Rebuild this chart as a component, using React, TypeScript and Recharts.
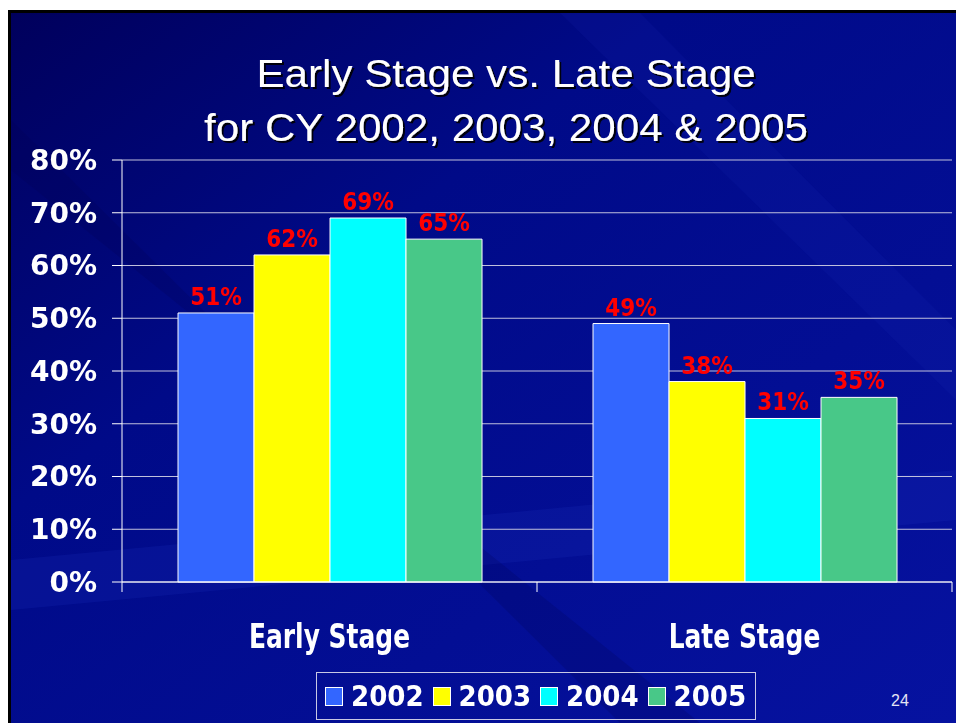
import React from 'react';
import {Bar, BarChart, CartesianGrid, LabelList, Legend, XAxis, YAxis} from 'recharts';

const stages = ['Early Stage', 'Late Stage'];
const years = ['2002', '2003', '2004', '2005'];
const pct2002 = [51, 49];
const pct2003 = [62, 38];
const pct2004 = [69, 31];
const pct2005 = [65, 35];
const yTicks = [0, 10, 20, 30, 40, 50, 60, 70, 80];
const titleLines = ['Early Stage vs. Late Stage', 'for CY 2002, 2003, 2004 & 2005'];
const slideNumber = '24';

const colors = ['#3366FF', '#FFFF00', '#00FFFF', '#48C888'];
const series = [pct2002, pct2003, pct2004, pct2005];

const data = stages.map((stage, i) => {
    const row: Record<string, string | number> = {stage};
    years.forEach((y, j) => {
        row[y] = series[j][i];
    });
    return row;
});

const condensed = "'DejaVu Sans Condensed', 'DejaVu Sans', sans-serif";

function StageTick(props: any) {
    const {x, y, payload, index, visibleTicksCount} = props;
    const half = payload.offset ?? 0;
    return (
        <g>
            <line x1={x - half} x2={x - half} y1={y - 10} y2={y} stroke="#fff" />
            {index === visibleTicksCount - 1 && (
                <line x1={x + half} x2={x + half} y1={y - 10} y2={y} stroke="#fff" />
            )}
            <g transform={`translate(${x},${y + 56}) scale(0.84,1)`}>
                <text
                    textAnchor="middle"
                    fill="#fff"
                    fontSize={33}
                    fontWeight="bold"
                    fontFamily={condensed}
                    fontStretch="condensed"
                >
                    {payload.value}
                </text>
            </g>
        </g>
    );
}

function YearLegend() {
    return (
        <div
            style={{
                display: 'flex',
                alignItems: 'center',
                height: 48,
                boxSizing: 'border-box',
                border: '1px solid #C8C8E4',
                paddingLeft: 8,
            }}
        >
            {years.map((y, i) => (
                <div key={y} style={{display: 'flex', alignItems: 'center', width: 109}}>
                    <span
                        style={{
                            display: 'inline-block',
                            width: 16,
                            height: 17,
                            background: colors[i],
                            border: '1px solid #fff',
                        }}
                    />
                    <span
                        style={{
                            marginLeft: 8,
                            color: '#fff',
                            fontSize: 29,
                            fontWeight: 'bold',
                            fontFamily: condensed,
                            fontStretch: 'condensed',
                            lineHeight: '30px',
                        }}
                    >
                        {y}
                    </span>
                </div>
            ))}
        </div>
    );
}

function Backdrop() {
    return (
        <svg width={956} height={723} style={{position: 'absolute', left: 0, top: 0}}>
            <defs>
                <linearGradient id="slideBg" x1="0" y1="0" x2="1" y2="1">
                    <stop offset="0%" stopColor="#00005C" />
                    <stop offset="35%" stopColor="#000A88" />
                    <stop offset="100%" stopColor="#0612A0" />
                </linearGradient>
                <filter id="titleShadow" x="-5%" y="-20%" width="110%" height="150%">
                    <feDropShadow dx={2} dy={2} stdDeviation={0.6} floodColor="#000" floodOpacity={0.9} />
                </filter>
            </defs>
            <rect x={0} y={0} width={956} height={723} fill="#fff" />
            <rect x={8} y={10} width={948} height={713} fill="#000" />
            <rect x={11} y={13} width={945} height={710} fill="url(#slideBg)" />
            <polygon points="11,560 956,470 956,520 11,610" fill="#2030C0" opacity={0.2} />
            <polygon points="560,13 640,13 956,330 956,400" fill="#2030C0" opacity={0.12} />
            <polygon points="11,120 11,170 700,723 620,723" fill="#000050" opacity={0.2} />
            <g filter="url(#titleShadow)">
                {titleLines.map((line, i) => (
                    <g key={line} transform={`translate(506,${87 + i * 54}) scale(1.11,1)`}>
                        <text textAnchor="middle" fill="#fff" fontSize={38} fontFamily="'Liberation Sans', Arial, sans-serif">
                            {line}
                        </text>
                    </g>
                ))}
            </g>
            <text x={900} y={706} textAnchor="middle" fill="#E4E4F4" fontSize={16} fontFamily="'Liberation Sans', Arial, sans-serif">
                {slideNumber}
            </text>
        </svg>
    );
}

export default function App() {
    return (
        <div style={{position: 'absolute', left: 0, top: 0, width: 956, height: 723, overflow: 'hidden'}}>
            <Backdrop />
            <div style={{position: 'absolute', left: 0, top: 0}}>
                <BarChart
                    width={956}
                    height={723}
                    data={data}
                    margin={{top: 160, right: 4, bottom: 3, left: 0}}
                    barCategoryGap="13.5%"
                    barGap={0}
                >
                    <CartesianGrid horizontal vertical={false} stroke="#C0C0DC" />
                    <XAxis
                        dataKey="stage"
                        height={90}
                        axisLine={{stroke: '#fff'}}
                        tickLine={false}
                        tickSize={10}
                        tickMargin={0}
                        tick={<StageTick />}
                        interval={0}
                    />
                    <YAxis
                        width={122}
                        domain={[0, 80]}
                        ticks={yTicks}
                        tickFormatter={(v: number) => `${v}%`}
                        axisLine={{stroke: '#fff'}}
                        tickLine={{stroke: '#fff'}}
                        tickSize={10}
                        tickMargin={15}
                        tick={{fill: '#fff', fontSize: 28, fontWeight: 'bold', fontFamily: "'DejaVu Sans', sans-serif"}}
                    />
                    <YAxis
                        yAxisId="edge"
                        orientation="right"
                        width={0}
                        domain={[0, 80]}
                        tick={false}
                        tickLine={false}
                        axisLine={{stroke: '#C0C0DC'}}
                    />
                    <Legend
                        verticalAlign="bottom"
                        content={<YearLegend />}
                        wrapperStyle={{left: 316, bottom: 3, width: 440}}
                    />
                    {years.map((y, i) => (
                        <Bar key={y} dataKey={y} fill={colors[i]} stroke="#fff" strokeWidth={1} isAnimationActive={false}>
                            <LabelList
                                dataKey={y}
                                position="top"
                                offset={8}
                                formatter={(v: any) => `${v}%`}
                                fill="#FF0000"
                                fontSize={24}
                                fontWeight="bold"
                                fontFamily={condensed}
                            />
                        </Bar>
                    ))}
                </BarChart>
            </div>
        </div>
    );
}
